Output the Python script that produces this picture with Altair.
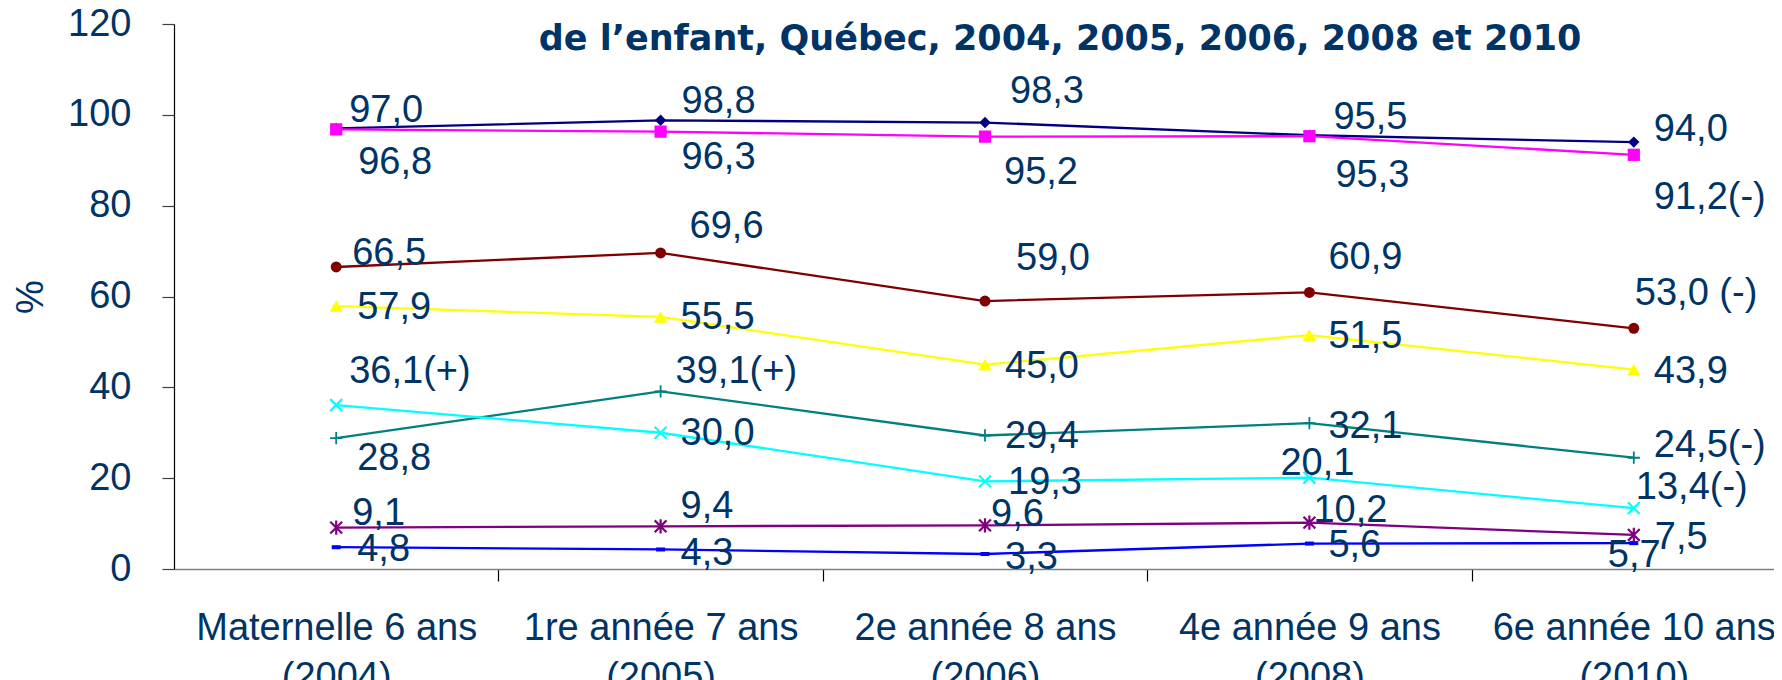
import json
import altair as alt
import pandas as pd

# ---------------- data ----------------
categories = [
    "Maternelle 6 ans|(2004)",
    "1re année 7 ans|(2005)",
    "2e année 8 ans|(2006)",
    "4e année 9 ans|(2008)",
    "6e année 10 ans|(2010)",
]
y_ticks = [0, 20, 40, 60, 80, 100, 120]
title_text = "de l’enfant, Québec, 2004, 2005, 2006, 2008 et 2010"

series_names = ["Série 1", "Série 2", "Série 3", "Série 4",
                "Série 5", "Série 6", "Série 7", "Série 8"]

s1_values = [97.0, 98.8, 98.3, 95.5, 94.0]
s2_values = [96.8, 96.3, 95.2, 95.3, 91.2]
s3_values = [66.5, 69.6, 59.0, 60.9, 53.0]
s4_values = [57.9, 55.5, 45.0, 51.5, 43.9]
s5_values = [28.8, 39.1, 29.4, 32.1, 24.5]
s6_values = [36.1, 30.0, 19.3, 20.1, 13.4]
s7_values = [9.1, 9.4, 9.6, 10.2, 7.5]
s8_values = [4.8, 4.3, 3.3, 5.6, 5.7]

s1_labels = ["97,0", "98,8", "98,3", "95,5", "94,0"]
s2_labels = ["96,8", "96,3", "95,2", "95,3", "91,2(-)"]
s3_labels = ["66,5", "69,6", "59,0", "60,9", "53,0 (-)"]
s4_labels = ["57,9", "55,5", "45,0", "51,5", "43,9"]
s5_labels = ["28,8", "39,1(+)", "29,4", "32,1", "24,5(-)"]
s6_labels = ["36,1(+)", "30,0", "19,3", "20,1", "13,4(-)"]
s7_labels = ["9,1", "9,4", "9,6", "10,2", "7,5"]
s8_labels = ["4,8", "4,3", "3,3", "5,6", "5,7"]

all_values = [s1_values, s2_values, s3_values, s4_values,
              s5_values, s6_values, s7_values, s8_values]
all_labels = [s1_labels, s2_labels, s3_labels, s4_labels,
              s5_labels, s6_labels, s7_labels, s8_labels]

# ---------------- style ----------------
colors = ["#000080", "#FF00FF", "#800000", "#FFFF00",
          "#008080", "#00FFFF", "#800080", "#0000FF"]
# (shape, size, filled, strokeWidth)
markers = [
    ("diamond", 130, True, 0),
    ("square", 150, True, 0),
    ("circle", 120, True, 0),
    ("triangle-up", 180, True, 0),
    ("M-1,0H1M0,-1V1", 150, False, 1.8),
    ("M-1,-1L1,1M-1,1L1,-1", 140, False, 2.2),
    ("M-1,-1L1,1M-1,1L1,-1M0,-1.2V1.2", 140, False, 2.2),
    ("M-1,-0.45H1V0.45H-1Z", 80, True, 0),
]
# label offsets in px (dx to left edge of text, dy of text centre)
label_offsets = [
    [(13, -17), (21, -18), (25, -31), (24, -17), (20, -12)],
    [(22, 34), (21, 26), (19, 36), (26, 40), (20, 43)],
    [(16, -13), (29, -26), (31, -42), (19, -34), (1, -34)],
    [(21, 2), (20, 1), (20, 2), (19, 2), (20, 2)],
    [(21, 21), (15, -19), (20, 2), (19, 4), (20, -12)],
    [(13, -33), (20, 1), (23, 2), (-29, -14), (2, -20)],
    [(16, -14), (20, -19), (6, -10), (4, -12), (21, 3)],
    [(21, 3), (20, 5), (20, 4), (19, 2), (-26, 13)],
]

TEXT = "#003366"
FONT = "Liberation Sans"
FS = 38

rows = []
for s, name in enumerate(series_names):
    for i in range(len(categories)):
        rows.append({
            "serie": name,
            "i": i,
            "value": all_values[s][i],
            "label": all_labels[s][i],
            "ldx": label_offsets[s][i][0],
            "ldy": label_offsets[s][i][1],
        })
df = pd.DataFrame(rows)

PLOT_W = 1600
PLOT_H = 545
BAND = 324.4
x_max = -0.5 + PLOT_W / BAND

cats_js = json.dumps(categories, ensure_ascii=False)

x_enc = alt.X(
    "i:Q",
    scale=alt.Scale(domain=[-0.5, x_max], nice=False, zero=False),
    axis=alt.Axis(
        values=list(range(len(categories))),
        title=None,
        labelExpr=f"split({cats_js}[datum.value], '|')",
        labelFont=FONT, labelFontSize=FS, labelColor=TEXT,
        labelLineHeight=49, labelPadding=28, labelOverlap=False,
        labelFlush=False, labelBound=False, labelLimit=0,
        tickOffset=BAND / 2, labelOffset=-BAND / 2,
        tickSize=12, tickColor="#000000", tickWidth=1.2,
        domainColor="#808080", domainWidth=1.5,
        grid=False,
    ),
)
y_enc = alt.Y(
    "value:Q",
    scale=alt.Scale(domain=[0, 120], nice=False, zero=True),
    axis=alt.Axis(
        values=y_ticks, title="%",
        titleFont=FONT, titleFontSize=FS, titleFontWeight="normal",
        titleColor=TEXT, titlePadding=17,
        labelFont=FONT, labelFontSize=FS, labelColor=TEXT,
        labelPadding=31, tickSize=12, tickColor="#404040", tickWidth=1.2,
        domainColor="#000000", domainWidth=1.2, grid=False,
        labelOverlap=False, labelFlush=False, labelBound=False,
    ),
)

base = alt.Chart(df)

lines = base.mark_line(strokeWidth=2.3).encode(
    x=x_enc, y=y_enc,
    color=alt.Color("serie:N", scale=alt.Scale(domain=series_names, range=colors), legend=None),
    detail="serie:N",
    order="i:Q",
)

layers = [lines]
for s, name in enumerate(series_names):
    shape, size, filled, sw = markers[s]
    kw = dict(shape=shape, size=size, filled=filled, opacity=1)
    if filled:
        kw["color"] = colors[s]
        kw["strokeWidth"] = 0
    else:
        kw["stroke"] = colors[s]
        kw["strokeWidth"] = sw
        kw["fill"] = "transparent"
    pts = base.transform_filter(alt.datum.serie == name).mark_point(**kw).encode(
        x="i:Q", y="value:Q"
    )
    layers.append(pts)

texts = base.mark_text(
    align="left", baseline="middle", font=FONT, fontSize=FS, color=TEXT,
    dx={"expr": "datum.ldx"}, dy={"expr": "datum.ldy"},
).encode(x="i:Q", y="value:Q", text="label:N")
layers.append(texts)

chart = alt.layer(*layers).properties(
    width=PLOT_W, height=PLOT_H,
    title=alt.TitleParams(
        text=title_text, font="DejaVu Sans", fontSize=35, fontWeight="bold",
        color=TEXT, anchor="middle", dx=86, dy=80, offset=0,
        baseline="alphabetic",
    ),
    autosize=alt.AutoSizeParams(type="none"),
    padding={"left": 166, "top": 16, "right": 0, "bottom": 111},
    background="white",
).configure_view(stroke=None)

chart.save("out.html", embed_options={"renderer": "svg", "actions": False})
